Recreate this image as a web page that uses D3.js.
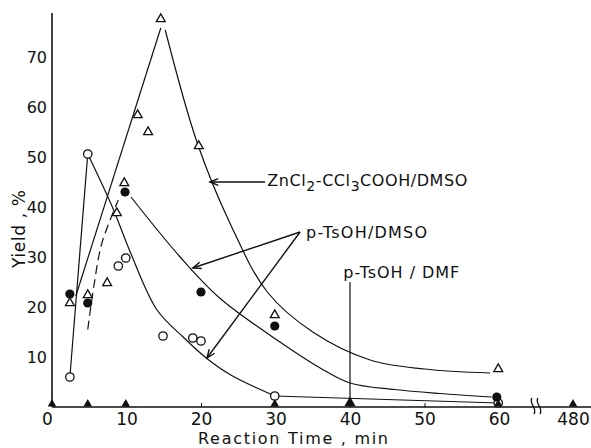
<!DOCTYPE html>
<html>
<head>
<meta charset="utf-8">
<script src="https://cdn.jsdelivr.net/npm/d3@7"></script>
<style>
  body { margin: 0; background: #fff; }
  svg { display: block; }
  text { font-family: "DejaVu Sans", sans-serif; fill: #111; }
</style>
</head>
<body>
<div id="chart"></div>
<script>
// tick values
var xTicks = [0, 10, 20, 30, 40, 50, 60, 480];
var yTicks = [10, 20, 30, 40, 50, 60, 70];

// ZnCl2-CCl3COOH / DMSO (open triangles)
var triT = [2.4, 4.8, 7.4, 8.7, 9.7, 11.5, 12.9, 14.6, 19.7, 29.9, 59.9];
var triY = [20.8, 22.4, 24.8, 38.8, 44.8, 58.4, 55, 77.6, 52.2, 18.4, 7.6];

// p-TsOH / DMSO (open circles)
var openT = [2.4, 4.8, 8.9, 9.9, 14.9, 18.9, 20, 29.9, 59.9];
var openY = [6, 50.6, 28.2, 29.8, 14.2, 13.8, 13.2, 2.2, 0.8];

// p-TsOH / DMSO (filled circles)
var fillT = [2.4, 4.8, 9.8, 20, 29.9, 59.7];
var fillY = [22.6, 20.8, 43, 23, 16.2, 2];

// p-TsOH / DMF (filled triangles, zero yield)
var dmfT = [0, 4.8, 9.9, 29.9, 40, 59.9, 480];
var dmfY = [0, 0, 0, 0, 0, 0, 0];

// hand drawn curves, [time, yield]
var znRise = [[3.2, 22.2], [14.6, 75.8]];
var znFall = [[15.2, 75.4], [19.5, 52.8], [24, 36.4], [28.9, 23], [35, 15], [42.7, 9.4], [50, 7.6], [58.8, 6.8]];
var openRise = [[2.4, 6], [4.8, 50.6]];
var openFall = [[4.8, 50.6], [8.1, 40], [10.5, 31], [14.1, 19.4], [17.6, 14], [20.7, 9.8], [24, 6.4], [29.9, 2.2]];
var openTail = [[29.9, 2.2], [59.9, 0.8]];
var fillRise = [[4.8, 15.5], [5.6, 24], [6.7, 32.8], [8.9, 41.4]];
var fillFall = [[10.6, 42], [17.2, 30], [22.5, 21.8], [30.6, 13], [36, 7.8], [40, 4.8], [46, 3.5], [52, 2.7], [59, 2]];

var width = 591, height = 448;

var svg = d3.select("#chart")
    .append("svg")
    .attr("width", width)
    .attr("height", height);

var x = d3.scaleLinear()
    .domain([0, 60, 480])
    .range([52, 499, 573]);

var y = d3.scaleLinear()
    .domain([0, 78.8])
    .range([407, 13]);

// axes
var xAxis = svg.append("g")
    .attr("transform", "translate(0," + y(0) + ")")
    .call(d3.axisBottom(x).tickValues(xTicks).tickSize(-4).tickSizeOuter(0).tickPadding(6)
        .tickFormat(d3.format("d")));
xAxis.select(".domain").remove();
xAxis.selectAll(".tick line").attr("stroke", "#111").attr("stroke-width", 1);
xAxis.selectAll(".tick text")
    .attr("font-size", 17)
    .attr("fill", "#111")
    .attr("dx", function (d) { return d === 0 ? -5 : 0; });

svg.append("line")
    .attr("x1", x(0)).attr("x2", width)
    .attr("y1", y(0)).attr("y2", y(0))
    .attr("stroke", "#111").attr("stroke-width", 1.6);

var yAxis = svg.append("g")
    .attr("transform", "translate(" + x(0) + ",0)")
    .call(d3.axisLeft(y).tickValues(yTicks).tickSize(0).tickPadding(5));
yAxis.select(".domain").remove();
yAxis.selectAll(".tick text").attr("font-size", 16).attr("fill", "#111");

svg.append("line")
    .attr("x1", x(0)).attr("x2", x(0))
    .attr("y1", y(0)).attr("y2", y(78.8))
    .attr("stroke", "#111").attr("stroke-width", 1.6);

// axis break between 60 and 480
var bx = (x(60) + x(480)) / 2;
[-3, 3].forEach(function (off) {
    var cx = bx + off;
    svg.append("path")
        .attr("d", "M" + (cx - 1) + "," + (y(0) - 9) +
            " C" + (cx - 5) + "," + (y(0) - 4) + " " + (cx + 5) + "," + (y(0) + 1) + " " + (cx + 1) + "," + (y(0) + 7))
        .attr("fill", "none")
        .attr("stroke", "#111")
        .attr("stroke-width", 1.3);
});

// axis titles
svg.append("text")
    .attr("x", 198)
    .attr("y", 444)
    .attr("font-size", 16)
    .attr("textLength", 190)
    .attr("lengthAdjust", "spacing")
    .text("Reaction Time , min");

svg.append("text")
    .attr("transform", "translate(25,268) rotate(-90)")
    .attr("font-size", 17)
    .attr("textLength", 78)
    .attr("lengthAdjust", "spacing")
    .text("Yield , %");

// curves
var line = d3.line()
    .x(function (d) { return x(d[0]); })
    .y(function (d) { return y(d[1]); });
var smooth = d3.line()
    .x(function (d) { return x(d[0]); })
    .y(function (d) { return y(d[1]); })
    .curve(d3.curveCatmullRom.alpha(0.5));

function drawCurve(pts, gen, dash) {
    svg.append("path")
        .attr("d", gen(pts))
        .attr("fill", "none")
        .attr("stroke", "#111")
        .attr("stroke-width", 1.2)
        .attr("stroke-dasharray", dash || null);
}

drawCurve(znRise, line);
drawCurve(znFall, smooth);
drawCurve(openRise, line);
drawCurve(openFall, smooth);
drawCurve(openTail, line);
drawCurve(fillRise, smooth, "9,5");
drawCurve(fillFall, smooth);

// annotation arrows
function arrow(t1, v1, t2, v2) {
    var x1 = x(t1), y1 = y(v1), x2 = x(t2), y2 = y(v2);
    var a = Math.atan2(y2 - y1, x2 - x1), len = 9, spread = 0.38;
    svg.append("line")
        .attr("x1", x1).attr("y1", y1).attr("x2", x2).attr("y2", y2)
        .attr("stroke", "#111").attr("stroke-width", 1.4);
    svg.append("path")
        .attr("d", "M" + (x2 - len * Math.cos(a - spread)) + "," + (y2 - len * Math.sin(a - spread)) +
            " L" + x2 + "," + y2 +
            " L" + (x2 - len * Math.cos(a + spread)) + "," + (y2 - len * Math.sin(a + spread)))
        .attr("fill", "none")
        .attr("stroke", "#111")
        .attr("stroke-width", 1.4);
}

arrow(28.6, 45, 21.2, 45);
arrow(33.3, 35, 18.9, 27.8);
arrow(33.3, 35, 20.8, 9.8);

svg.append("line")
    .attr("x1", x(40)).attr("x2", x(40))
    .attr("y1", y(25)).attr("y2", y(0))
    .attr("stroke", "#111").attr("stroke-width", 1.2);

// labels
var zn = svg.append("text")
    .attr("x", x(28.9))
    .attr("y", y(44.2))
    .attr("font-size", 16)
    .attr("textLength", 200)
    .attr("lengthAdjust", "spacing");
zn.append("tspan").text("ZnCl");
zn.append("tspan").attr("dy", 5).attr("font-size", 14).text("2");
zn.append("tspan").attr("dy", -5).text("-CCl");
zn.append("tspan").attr("dy", 5).attr("font-size", 14).text("3");
zn.append("tspan").attr("dy", -5).text("COOH/DMSO");

svg.append("text")
    .attr("x", x(34.1))
    .attr("y", y(33.8))
    .attr("font-size", 16)
    .attr("textLength", 121)
    .attr("lengthAdjust", "spacing")
    .text("p-TsOH/DMSO");

svg.append("text")
    .attr("x", x(39.1))
    .attr("y", y(25.8))
    .attr("font-size", 16)
    .attr("textLength", 116)
    .attr("lengthAdjust", "spacing")
    .text("p-TsOH / DMF");

// markers
var tri = d3.symbol().type(d3.symbolTriangle);

svg.selectAll(".tri")
    .data(d3.zip(triT, triY))
    .enter()
    .append("path")
    .attr("class", "tri")
    .attr("d", tri.size(34)())
    .attr("transform", function (d) { return "translate(" + x(d[0]) + "," + y(d[1]) + ")"; })
    .attr("fill", "#fff")
    .attr("stroke", "#111")
    .attr("stroke-width", 1.3);

svg.selectAll(".open")
    .data(d3.zip(openT, openY))
    .enter()
    .append("circle")
    .attr("class", "open")
    .attr("cx", function (d) { return x(d[0]); })
    .attr("cy", function (d) { return y(d[1]); })
    .attr("r", 4.2)
    .attr("fill", "#fff")
    .attr("stroke", "#111")
    .attr("stroke-width", 1.3);

svg.selectAll(".filled")
    .data(d3.zip(fillT, fillY))
    .enter()
    .append("circle")
    .attr("class", "filled")
    .attr("cx", function (d) { return x(d[0]); })
    .attr("cy", function (d) { return y(d[1]); })
    .attr("r", 4.6)
    .attr("fill", "#111");

svg.selectAll(".dmf")
    .data(d3.zip(dmfT, dmfY))
    .enter()
    .append("path")
    .attr("class", "dmf")
    .attr("d", function (d) { return tri.size(d[0] === 40 ? 55 : 32)(); })
    .attr("transform", function (d) {
        var s = d[0] === 40 ? 4 : 3;
        return "translate(" + x(d[0]) + "," + (y(d[1]) - s) + ")";
    })
    .attr("fill", "#111");
</script>
</body>
</html>
